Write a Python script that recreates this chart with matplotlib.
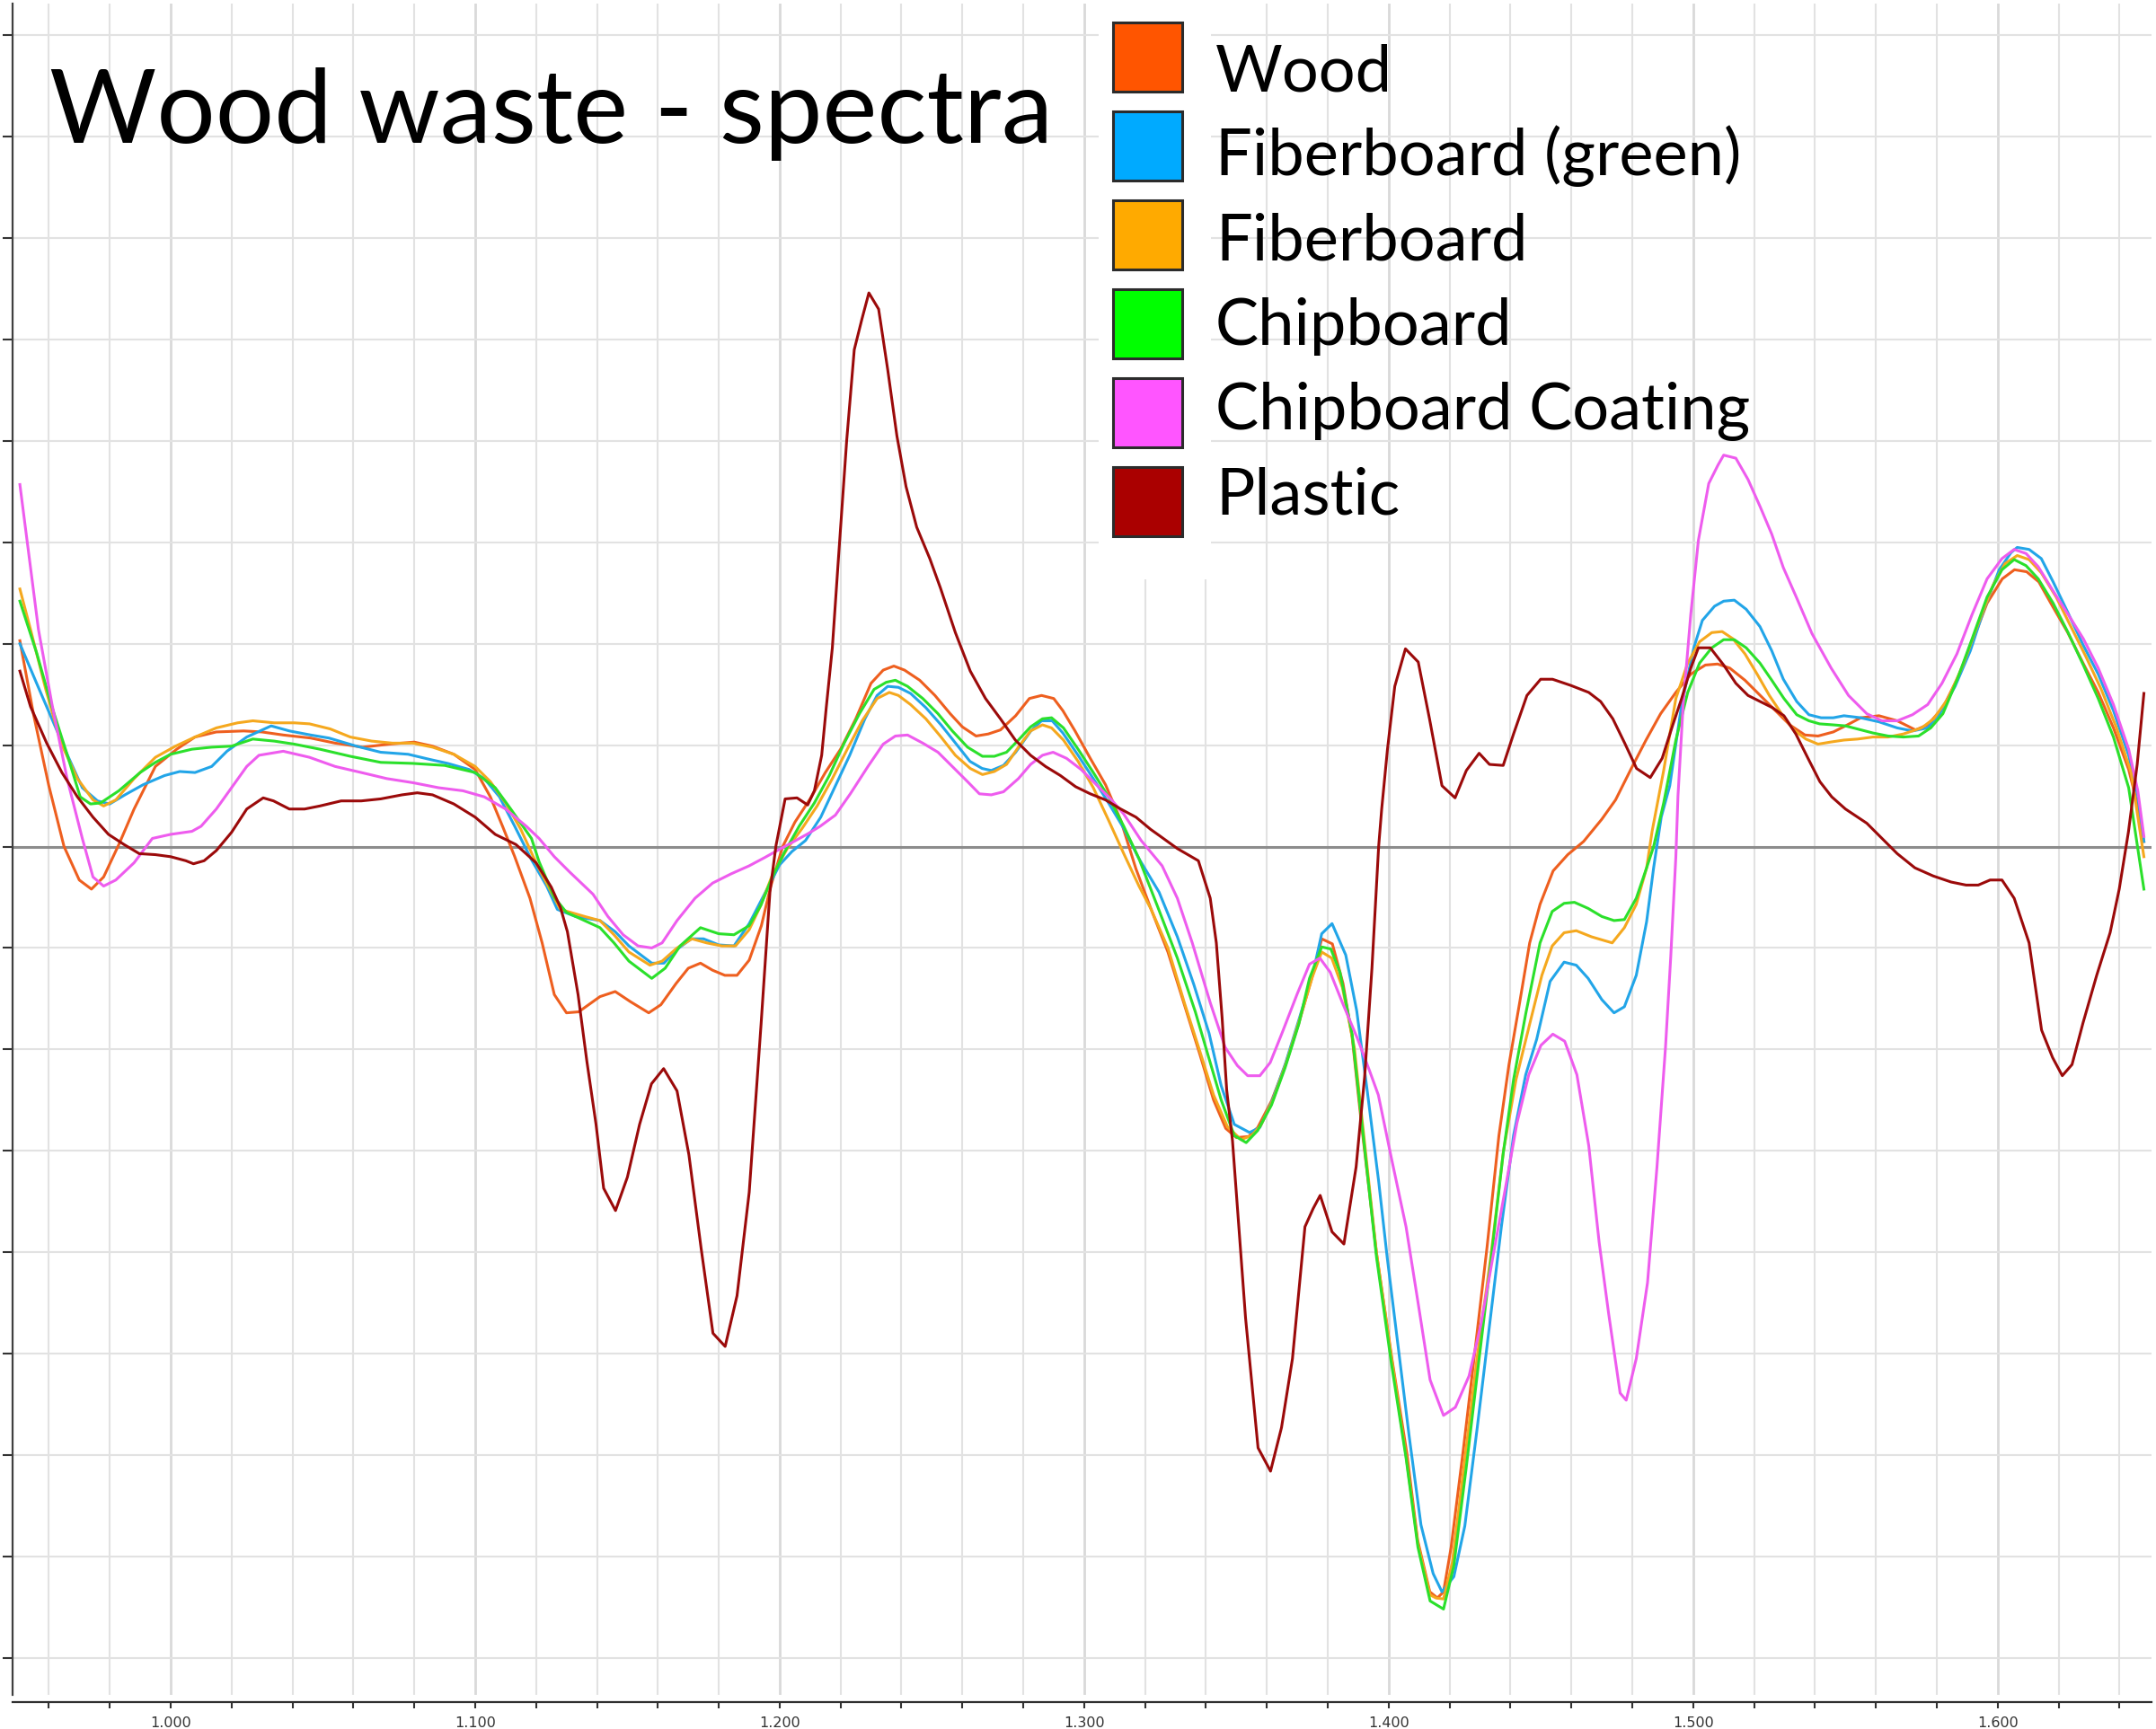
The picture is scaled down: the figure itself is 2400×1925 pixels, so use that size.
import matplotlib
matplotlib.use("Agg")
import matplotlib.pyplot as plt
from matplotlib.patches import Rectangle

# ---------------- data (wavelength in nm, signal in arbitrary units) ----------------
wood_wl = [950.5, 955, 960, 965, 970, 974, 978, 983, 988, 995, 1002, 1008, 1015, 1024, 1030, 1037, 1046, 1054,
           1063, 1072, 1080, 1086, 1093, 1100, 1105, 1109, 1113, 1118, 1122, 1126, 1130, 1134, 1141, 1146, 1151,
           1157, 1161, 1166, 1170, 1174, 1178, 1182, 1186, 1190, 1194, 1197, 1201, 1205, 1210, 1215, 1220, 1225,
           1230, 1234, 1237.5, 1241, 1246, 1251, 1256, 1260, 1264.5, 1268.5, 1272.5, 1277.5, 1282, 1286, 1290,
           1293, 1297, 1302, 1307, 1312, 1317, 1322, 1327.5, 1333, 1338, 1342.5, 1346.5, 1350, 1354, 1357,
           1361.5, 1366, 1370.5, 1375, 1378, 1381.5, 1385, 1388, 1391, 1396, 1401, 1406, 1409.5, 1413.5, 1416,
           1418, 1420.5, 1424.5, 1428.5, 1432.3, 1436.2, 1439.5, 1443, 1446.3, 1449.7, 1454, 1458.8, 1464, 1470,
           1474.5, 1479.5, 1484.5, 1489.3, 1494.3, 1499.2, 1504, 1508, 1512, 1517, 1522, 1527, 1531.7, 1536.7,
           1541, 1546, 1550, 1555, 1561, 1567, 1573, 1577, 1582, 1587, 1592, 1596.5, 1601.5, 1605.5, 1609.5,
           1613.5, 1618, 1623, 1628, 1633, 1638, 1643, 1646, 1648]
wood_val = [2.03, 1.30, 0.60, 0.00, -0.33, -0.42, -0.30, 0.02, 0.37, 0.79, 0.96, 1.08, 1.13, 1.14, 1.13, 1.10, 1.07,
            1.02, 0.98, 1.01, 1.03, 0.99, 0.91, 0.76, 0.49, 0.20, -0.10, -0.51, -0.95, -1.46, -1.64, -1.63, -1.48,
            -1.43, -1.53, -1.64, -1.56, -1.35, -1.20, -1.15, -1.22, -1.27, -1.27, -1.12, -0.78, -0.40, 0.00, 0.24,
            0.47, 0.73, 0.96, 1.26, 1.61, 1.74, 1.78, 1.74, 1.64, 1.49, 1.31, 1.18, 1.09, 1.11, 1.15, 1.29, 1.46,
            1.49, 1.46, 1.34, 1.14, 0.87, 0.61, 0.26, -0.22, -0.62, -1.04, -1.57, -2.05, -2.50, -2.78, -2.87, -2.86,
            -2.77, -2.51, -2.16, -1.74, -1.27, -0.91, -0.96, -1.35, -1.88, -2.72, -4.01, -5.04, -5.99, -6.84, -7.35,
            -7.41, -7.35, -6.91, -5.95, -4.93, -3.95, -2.85, -2.15, -1.54, -0.95, -0.57, -0.24, -0.08, 0.05, 0.27,
            0.46, 0.76, 1.05, 1.31, 1.52, 1.70, 1.79, 1.80, 1.76, 1.64, 1.49, 1.34, 1.20, 1.10, 1.09, 1.13, 1.19,
            1.27, 1.29, 1.24, 1.15, 1.20, 1.37, 1.67, 2.05, 2.40, 2.64, 2.73, 2.71, 2.61, 2.37, 2.11, 1.81, 1.52,
            1.17, 0.76, 0.40, 0.05]

fibg_wl = [950.5, 956, 961, 966, 971, 976, 980, 985, 991, 998, 1003, 1008, 1013.5, 1018.5, 1025, 1033, 1039, 1046,
           1052, 1061, 1069, 1078, 1085, 1091, 1098, 1103, 1108, 1113, 1118.5, 1123.5, 1127, 1133, 1141, 1146,
           1150.5, 1158, 1162, 1166, 1171, 1175, 1180, 1185, 1190, 1195, 1200, 1204, 1208.5, 1213.5, 1218, 1223,
           1228, 1232, 1235.5, 1239, 1243, 1248, 1253, 1258, 1262.5, 1266.5, 1269.5, 1273.5, 1277.5, 1282.5, 1286,
           1289.5, 1293, 1298, 1303, 1308, 1313, 1318, 1324.6, 1330.6, 1336, 1341, 1345, 1349.3, 1354.3, 1357.7,
           1361.7, 1366.2, 1370.7, 1375.2, 1378, 1381.4, 1385.9, 1389.5, 1393, 1396.7, 1399.5, 1402.8, 1406.7,
           1410.6, 1414.6, 1417.5, 1421.4, 1425, 1429, 1433, 1437, 1441, 1445, 1448.6, 1453, 1457.6, 1461.6,
           1465.5, 1470, 1474, 1477.4, 1481.3, 1484.7, 1487, 1489.5, 1492.3, 1496.2, 1500.2, 1503, 1507, 1510,
           1513.5, 1517.4, 1521.9, 1525.8, 1529.6, 1534, 1538, 1542, 1546, 1549.5, 1555, 1561, 1567, 1572, 1577,
           1581, 1586, 1591, 1595.5, 1600.5, 1604.4, 1606.4, 1610.3, 1614.3, 1618.2, 1623, 1628, 1633, 1638, 1643,
           1646, 1648]
fibg_val = [2.00, 1.61, 1.26, 0.91, 0.58, 0.45, 0.42, 0.51, 0.61, 0.70, 0.74, 0.73, 0.79, 0.94, 1.08, 1.19, 1.14,
            1.10, 1.07, 0.99, 0.93, 0.91, 0.86, 0.82, 0.76, 0.67, 0.49, 0.20, -0.13, -0.39, -0.62, -0.69, -0.73,
            -0.84, -0.98, -1.15, -1.15, -1.02, -0.91, -0.91, -0.97, -0.98, -0.76, -0.47, -0.18, -0.05, 0.06, 0.29,
            0.58, 0.90, 1.26, 1.49, 1.58, 1.57, 1.51, 1.37, 1.20, 1.01, 0.84, 0.77, 0.75, 0.80, 0.93, 1.14, 1.24,
            1.24, 1.12, 0.90, 0.67, 0.43, 0.18, -0.12, -0.45, -0.89, -1.36, -1.84, -2.36, -2.74, -2.82, -2.77,
            -2.51, -2.13, -1.69, -1.24, -0.86, -0.76, -1.07, -1.62, -2.42, -3.30, -4.05, -4.86, -5.81, -6.69,
            -7.17, -7.35, -7.20, -6.70, -5.75, -4.75, -3.75, -2.85, -2.25, -1.90, -1.33, -1.14, -1.17, -1.30,
            -1.51, -1.64, -1.58, -1.27, -0.74, -0.21, 0.29, 0.60, 1.40, 1.96, 2.23, 2.37, 2.42, 2.43, 2.34, 2.17,
            1.93, 1.65, 1.43, 1.30, 1.27, 1.27, 1.29, 1.27, 1.23, 1.17, 1.14, 1.17, 1.31, 1.58, 1.93, 2.34, 2.73,
            2.90, 2.95, 2.93, 2.84, 2.61, 2.31, 1.99, 1.70, 1.34, 0.90, 0.50, 0.05]

fib_wl = [950.5, 954, 959, 964, 969.4, 974.5, 978, 982, 988, 995, 1001.6, 1008, 1015, 1022, 1027, 1034, 1040.6,
          1045.6, 1052.4, 1059, 1066, 1072.8, 1079.5, 1086, 1093, 1100, 1105, 1110, 1115, 1120, 1125, 1128, 1136,
          1141, 1145.6, 1150.5, 1157.4, 1161.4, 1166.3, 1171.2, 1176, 1181, 1185.5, 1190, 1193.8, 1197.6, 1202.5,
          1207.4, 1212.3, 1217.3, 1222.2, 1227.1, 1232, 1236, 1239, 1243, 1248, 1253, 1257.7, 1262.6, 1266.6,
          1270.5, 1274.5, 1278.4, 1282.4, 1286.3, 1289.3, 1293.2, 1298, 1303, 1308, 1313, 1318, 1322, 1327.5,
          1333, 1338, 1342.5, 1347, 1351.5, 1355, 1358, 1362, 1366.5, 1371, 1375, 1378, 1381.3, 1384.8, 1388.7,
          1391.5, 1396, 1401, 1405.7, 1409.6, 1413.6, 1415.5, 1418, 1420.9, 1424.9, 1429, 1433.5, 1437.7, 1441.8,
          1446.3, 1450.3, 1453.7, 1457.6, 1461.6, 1466.6, 1473.4, 1477.4, 1481.3, 1484.7, 1486.5, 1490.3, 1494.3,
          1498.2, 1502.1, 1506.1, 1509.5, 1513, 1517, 1521, 1525, 1529, 1533, 1537, 1541, 1545, 1549.5, 1554,
          1559, 1564, 1569, 1575, 1579, 1583.7, 1588.6, 1593.6, 1598.5, 1602.4, 1606.4, 1610.3, 1614.3, 1619.2,
          1624, 1629, 1634, 1639, 1643.8, 1648]
fib_val = [2.54, 2.14, 1.55, 1.02, 0.67, 0.46, 0.40, 0.46, 0.67, 0.88, 0.99, 1.08, 1.17, 1.22, 1.24, 1.22, 1.22,
           1.21, 1.16, 1.08, 1.04, 1.02, 1.02, 0.98, 0.91, 0.79, 0.64, 0.43, 0.17, -0.16, -0.45, -0.62, -0.69,
           -0.73, -0.87, -1.04, -1.17, -1.13, -1.00, -0.91, -0.95, -0.98, -0.98, -0.82, -0.58, -0.28, -0.02, 0.18,
           0.40, 0.67, 0.96, 1.24, 1.46, 1.52, 1.49, 1.40, 1.26, 1.08, 0.90, 0.77, 0.71, 0.74, 0.81, 0.98, 1.14,
           1.20, 1.17, 1.05, 0.84, 0.58, 0.26, -0.07, -0.39, -0.62, -1.00, -1.55, -2.02, -2.45, -2.76, -2.89,
           -2.85, -2.75, -2.50, -2.12, -1.68, -1.28, -1.04, -1.10, -1.39, -1.98, -2.76, -4.01, -5.06, -6.01, -6.88,
           -7.38, -7.41, -7.42, -7.06, -6.07, -5.05, -4.05, -3.00, -2.30, -1.75, -1.27, -0.98, -0.85, -0.83, -0.89,
           -0.95, -0.80, -0.57, -0.21, 0.15, 0.75, 1.46, 1.81, 2.02, 2.11, 2.12, 2.05, 1.90, 1.70, 1.49, 1.31,
           1.15, 1.06, 1.01, 1.03, 1.05, 1.06, 1.08, 1.08, 1.11, 1.17, 1.26, 1.46, 1.79, 2.20, 2.58, 2.79, 2.87,
           2.83, 2.70, 2.46, 2.17, 1.87, 1.55, 1.17, 0.73, -0.10]

chip_wl = [950.5, 956, 961, 966, 970.3, 973.7, 977, 983, 990, 995, 1000, 1007, 1013.5, 1020, 1027, 1034, 1040.6,
           1049, 1059, 1069, 1079.5, 1090, 1100, 1106.6, 1111.7, 1118.5, 1121, 1126, 1130, 1133, 1141, 1145.6,
           1150.5, 1158, 1162.4, 1167.3, 1174, 1180, 1185, 1190, 1193.8, 1197.6, 1201.5, 1206.4, 1211.4, 1216.3,
           1221.2, 1226.2, 1231, 1235, 1238, 1242, 1247, 1252, 1256.7, 1261.7, 1266.6, 1270.5, 1274.5, 1278.4,
           1282.4, 1286.3, 1289.3, 1293.2, 1298, 1303, 1308, 1313, 1318, 1324.6, 1330.6, 1336.5, 1341.4, 1345,
           1349.3, 1353.2, 1357, 1361.5, 1366, 1370.5, 1374, 1378, 1381, 1384, 1388, 1392, 1396, 1400.8, 1405.7,
           1409.6, 1413.6, 1418, 1421.4, 1425.4, 1429.5, 1433.5, 1437.5, 1441, 1445, 1449.7, 1453.7, 1457.6, 1461,
           1465.5, 1470, 1474, 1477.4, 1481.3, 1484.7, 1487, 1490.3, 1494.3, 1498.2, 1502.1, 1506.1, 1510, 1513.5,
           1517.4, 1521.9, 1525.8, 1529.8, 1534, 1538, 1541.5, 1546, 1550, 1559, 1564, 1569, 1574, 1578, 1582,
           1586.6, 1591.6, 1596.5, 1601.4, 1605.4, 1609.3, 1613.3, 1618.2, 1623.1, 1628.1, 1633, 1638, 1643, 1648]
chip_val = [2.42, 1.91, 1.38, 0.91, 0.49, 0.42, 0.43, 0.55, 0.73, 0.83, 0.91, 0.96, 0.98, 0.99, 1.06, 1.04, 1.01,
            0.96, 0.89, 0.83, 0.82, 0.80, 0.73, 0.58, 0.37, 0.08, -0.15, -0.50, -0.65, -0.69, -0.80, -0.95, -1.13,
            -1.30, -1.20, -0.98, -0.80, -0.86, -0.87, -0.78, -0.58, -0.30, -0.06, 0.20, 0.43, 0.70, 1.02, 1.31,
            1.55, 1.62, 1.64, 1.58, 1.46, 1.31, 1.14, 0.98, 0.89, 0.89, 0.93, 1.05, 1.18, 1.26, 1.27, 1.17, 0.96,
            0.73, 0.49, 0.20, -0.12, -0.63, -1.10, -1.63, -2.13, -2.50, -2.85, -2.92, -2.80, -2.55, -2.18, -1.75,
            -1.30, -0.99, -1.01, -1.24, -1.85, -2.95, -4.05, -5.08, -6.03, -6.91, -7.44, -7.52, -7.09, -6.14,
            -5.10, -4.10, -3.05, -2.30, -1.65, -0.95, -0.64, -0.56, -0.55, -0.61, -0.69, -0.73, -0.72, -0.51,
            -0.21, 0.00, 0.43, 1.05, 1.52, 1.81, 1.96, 2.04, 2.04, 1.96, 1.81, 1.64, 1.46, 1.30, 1.24, 1.21, 1.20,
            1.19, 1.12, 1.09, 1.08, 1.09, 1.17, 1.31, 1.64, 2.05, 2.46, 2.73, 2.83, 2.77, 2.64, 2.40, 2.11, 1.79,
            1.46, 1.08, 0.58, -0.42]

coat_wl = [950.5, 956.6, 961, 966, 971, 974.5, 978, 982, 988, 994, 1000, 1007, 1010, 1015, 1020, 1025, 1029, 1037,
           1045.6, 1054, 1062.6, 1071, 1079.5, 1088, 1096, 1103, 1110, 1116.8, 1121, 1126, 1131, 1138.7, 1143.6,
           1148.6, 1153.5, 1158, 1161.4, 1166.3, 1172.2, 1178, 1184, 1190, 1195, 1199.8, 1204.7, 1209.5, 1213.3,
           1218.3, 1223.2, 1229, 1234, 1238, 1242, 1247, 1252, 1256.7, 1261.7, 1265.6, 1269.5, 1273.5, 1278.4,
           1282.4, 1286.3, 1289.8, 1294.2, 1299, 1304, 1309, 1313, 1318.7, 1325.6, 1330.6, 1335.5, 1341.4, 1346.3,
           1350.3, 1353.7, 1357.7, 1361.1, 1365.1, 1370, 1374, 1377.4, 1380.8, 1384.8, 1389.7, 1393.7, 1396.6,
           1400.8, 1405.7, 1409.6, 1413.6, 1418, 1421.9, 1426.4, 1430.3, 1434.2, 1438.2, 1442.1, 1446, 1450,
           1453.9, 1457.8, 1461.8, 1465.7, 1469.1, 1472.2, 1476, 1478, 1481.3, 1485, 1488.1, 1490.9, 1492.6, 1494.3,
           1495, 1496.7, 1499.2, 1501.7, 1505.1, 1508.1, 1510, 1514, 1518, 1522, 1525.8, 1529.6, 1534, 1539,
           1545.3, 1551, 1557, 1562, 1567, 1572, 1577, 1581.7, 1586.6, 1591.6, 1596.5, 1601.4, 1605.4, 1609.3,
           1613.3, 1618.2, 1623.1, 1628.1, 1633, 1638, 1643, 1646, 1648]
coat_val = [3.57, 2.14, 1.41, 0.67, 0.08, -0.30, -0.39, -0.33, -0.16, 0.08, 0.12, 0.15, 0.20, 0.37, 0.58, 0.79,
            0.90, 0.94, 0.88, 0.79, 0.73, 0.67, 0.63, 0.58, 0.55, 0.49, 0.37, 0.20, 0.08, -0.10, -0.25, -0.47,
            -0.69, -0.87, -0.98, -1.00, -0.95, -0.73, -0.51, -0.36, -0.27, -0.19, -0.11, -0.03, 0.05, 0.13, 0.20,
            0.31, 0.52, 0.79, 1.01, 1.09, 1.10, 1.02, 0.93, 0.79, 0.64, 0.52, 0.51, 0.54, 0.67, 0.81, 0.90, 0.93,
            0.87, 0.76, 0.61, 0.46, 0.32, 0.06, -0.19, -0.51, -0.95, -1.54, -1.98, -2.16, -2.26, -2.26, -2.13,
            -1.83, -1.45, -1.16, -1.10, -1.24, -1.54, -1.89, -2.21, -2.45, -3.06, -3.75, -4.49, -5.26, -5.61,
            -5.53, -5.22, -4.71, -4.05, -3.39, -2.73, -2.25, -1.96, -1.85, -1.92, -2.25, -2.95, -3.90, -4.60,
            -5.39, -5.46, -5.05, -4.30, -3.16, -1.98, -1.10, -0.10, 0.50, 1.40, 2.29, 3.02, 3.58, 3.76, 3.86,
            3.83, 3.62, 3.35, 3.08, 2.75, 2.45, 2.10, 1.76, 1.49, 1.31, 1.24, 1.24, 1.30, 1.40, 1.61, 1.90, 2.29,
            2.64, 2.84, 2.93, 2.89, 2.76, 2.52, 2.29, 2.05, 1.76, 1.40, 0.96, 0.55, 0.10]

plas_wl = [950.5, 954, 959.3, 964.3, 969.4, 974.5, 979.6, 984.7, 989.7, 995, 1000, 1005, 1007.5, 1011, 1015, 1020,
           1025, 1030.4, 1033.8, 1039, 1044, 1049, 1056, 1062.6, 1069, 1076, 1081, 1086, 1093, 1100, 1106.6,
           1113.4, 1120, 1125, 1128, 1130.3, 1133.8, 1136.7, 1139.7, 1142.2, 1146.1, 1150, 1154, 1157.9, 1161.9,
           1166.3, 1170.2, 1174.2, 1178.1, 1182.1, 1186, 1190, 1193.9, 1196.8, 1198.8, 1201.8, 1205.7, 1209.2,
           1211.4, 1213.8, 1215.3, 1217.3, 1219.3, 1222, 1224.5, 1227, 1229.3, 1232.5, 1235.5, 1238.5, 1241.5,
           1245, 1249.3, 1252.8, 1257.7, 1262.6, 1267.6, 1272.5, 1277.4, 1282.4, 1287.3, 1292.2, 1297.2, 1302,
           1307, 1312, 1317, 1321.8, 1324.6, 1330.6, 1337.5, 1341.4, 1343.4, 1345.3, 1346.8, 1348.7, 1351.5, 1353,
           1357.1, 1361.2, 1364.8, 1368.4, 1372.5, 1375.2, 1377.5, 1381.4, 1385.3, 1389.3, 1392.1, 1394.5, 1396.7,
           1397.7, 1399.6, 1402, 1405.5, 1409.7, 1413.4, 1417.5, 1421.8, 1425.5, 1429.7, 1433.1, 1437.6, 1441,
           1445.4, 1449.9, 1453.8, 1459.7, 1465.7, 1469.6, 1473.6, 1477.5, 1481.4, 1485.9, 1489.8, 1493.3, 1496.2,
           1499.2, 1501.7, 1505.6, 1510, 1514, 1518, 1522, 1526, 1529.8, 1533.7, 1537.7, 1541.6, 1545.5, 1550,
           1557, 1562, 1567, 1572.8, 1578.8, 1584.7, 1589.6, 1593.6, 1597.5, 1601.4, 1605.4, 1608.3, 1610.3,
           1614.4, 1618, 1621.2, 1624.4, 1628, 1632.5, 1636.9, 1639.9, 1642.9, 1645.8, 1648]
plas_val = [1.73, 1.38, 1.02, 0.73, 0.49, 0.29, 0.12, 0.02, -0.07, -0.08, -0.10, -0.14, -0.17, -0.14, -0.04, 0.14,
            0.37, 0.48, 0.45, 0.37, 0.37, 0.40, 0.45, 0.45, 0.47, 0.51, 0.53, 0.51, 0.42, 0.29, 0.12, 0.02, -0.16,
            -0.40, -0.60, -0.84, -1.46, -2.12, -2.74, -3.37, -3.59, -3.26, -2.74, -2.34, -2.19, -2.41, -3.04, -3.96,
            -4.80, -4.93, -4.43, -3.41, -1.75, -0.45, 0.01, 0.47, 0.48, 0.41, 0.55, 0.90, 1.37, 1.96, 2.84, 4.00,
            4.90, 5.20, 5.46, 5.30, 4.70, 4.05, 3.55, 3.15, 2.84, 2.55, 2.11, 1.73, 1.46, 1.26, 1.05, 0.90, 0.79,
            0.70, 0.59, 0.52, 0.46, 0.37, 0.29, 0.17, 0.11, -0.02, -0.14, -0.51, -0.95, -1.69, -2.40, -2.90, -4.04,
            -4.65, -5.93, -6.16, -5.73, -5.05, -3.75, -3.57, -3.44, -3.80, -3.92, -3.16, -2.27, -1.20, 0.00, 0.37,
            0.96, 1.58, 1.95, 1.82, 1.26, 0.60, 0.48, 0.75, 0.92, 0.81, 0.80, 1.11, 1.49, 1.65, 1.65, 1.59, 1.52,
            1.43, 1.26, 1.02, 0.77, 0.68, 0.87, 1.20, 1.46, 1.76, 1.96, 1.96, 1.79, 1.61, 1.49, 1.43, 1.37, 1.29,
            1.11, 0.87, 0.64, 0.49, 0.37, 0.23, 0.08, -0.07, -0.21, -0.29, -0.35, -0.38, -0.38, -0.33, -0.33,
            -0.51, -0.77, -0.95, -1.81, -2.08, -2.26, -2.15, -1.74, -1.27, -0.85, -0.42, 0.14, 0.81, 1.51]

labels = ["Wood", "Fiberboard (green)", "Fiberboard", "Chipboard", "Chipboard Coating", "Plastic"]
legend_colors = ["#FF5500", "#00AAFF", "#FFAA00", "#00FF00", "#FF55FF", "#AA0000"]
line_colors = ["#EE5F1F", "#22A5E8", "#F5A81E", "#2BE02B", "#EE5CEE", "#9B0A0A"]
title = "Wood waste - spectra"
xticks_major = [1000, 1100, 1200, 1300, 1400, 1500, 1600]
xtick_labels = ["1.000", "1.100", "1.200", "1.300", "1.400", "1.500", "1.600"]

# ---------------- figure ----------------
W, H = 2400, 1925
fig = plt.figure(figsize=(W / 100, H / 100), dpi=100)
fig.patch.set_facecolor("white")

def fx(px):
    return px / W

def fy(py):
    return 1 - py / H

ax_left, ax_right, ax_top, ax_bottom = 14, 2395, 4, 1887
ax = fig.add_axes([fx(ax_left), fy(ax_bottom), fx(ax_right - ax_left), (ax_bottom - ax_top) / H])
ax.set_xlim(948.1, 1650.5)
ax.set_ylim(-8.366, 8.313)

for s in ["top", "right"]:
    ax.spines[s].set_visible(False)
ax.spines["left"].set_color("#404040")
ax.spines["left"].set_linewidth(1.6)
ax.spines["bottom"].set_color("#303030")
ax.spines["bottom"].set_linewidth(1.6)
ax.spines["bottom"].set_position(("outward", 6))

# ticks
ax.set_xticks(xticks_major)
ax.set_xticklabels(xtick_labels, fontsize=11.5, color="#333333", family="DejaVu Sans")
ax.set_xticks([w for w in range(960, 1650, 20) if w % 100 != 0], minor=True)
ax.tick_params(axis="x", which="both", direction="out", length=5, width=1.5, color="#333333", pad=6)
ax.set_yticks(list(range(-8, 9)))
ax.set_yticklabels([])
ax.tick_params(axis="y", which="major", direction="out", length=8, width=1.5, color="#333333")

# grid
for w in range(960, 1650, 20):
    ax.axvline(w, color="#E2E2E2" if w % 100 else "#D9D9D9", lw=1.5 if w % 100 else 2.0, zorder=0)
for v in range(-8, 9):
    if v != 0:
        ax.axhline(v, color="#E2E2E2", lw=1.5, zorder=0)
ax.axhline(0, color="#8C8C8C", lw=2.2, zorder=1)

# white box behind legend swatches
fig.patches.append(Rectangle((fx(1223), fy(645)), fx(125), 645 / H, transform=fig.transFigure,
                             facecolor="white", edgecolor="none", zorder=1))

# spectra
series = [(wood_wl, wood_val), (fibg_wl, fibg_val), (fib_wl, fib_val),
          (chip_wl, chip_val), (coat_wl, coat_val), (plas_wl, plas_val)]
for (wl, val), c, lab in zip(series, line_colors, labels):
    ax.plot(wl, val, color=c, lw=2.2, label=lab, zorder=3, solid_joinstyle="round")

# title
fig.text(fx(55), fy(159), title, fontsize=83, family="Lato", color="black", va="baseline", ha="left", zorder=5)

# manual legend
for i, (lab, c) in enumerate(zip(labels, legend_colors)):
    top = 25 + 99 * i
    fig.patches.append(Rectangle((fx(1239), fy(top + 77)), fx(77), 77 / H, transform=fig.transFigure,
                                 facecolor=c, edgecolor="#2B2B2B", lw=2.2, zorder=4))
    fig.text(fx(1353), fy(101 + 94.3 * i), lab, fontsize=52, family="Lato", color="black",
             va="baseline", ha="left", zorder=5)

fig.savefig("out.png", dpi=100, facecolor="white")
